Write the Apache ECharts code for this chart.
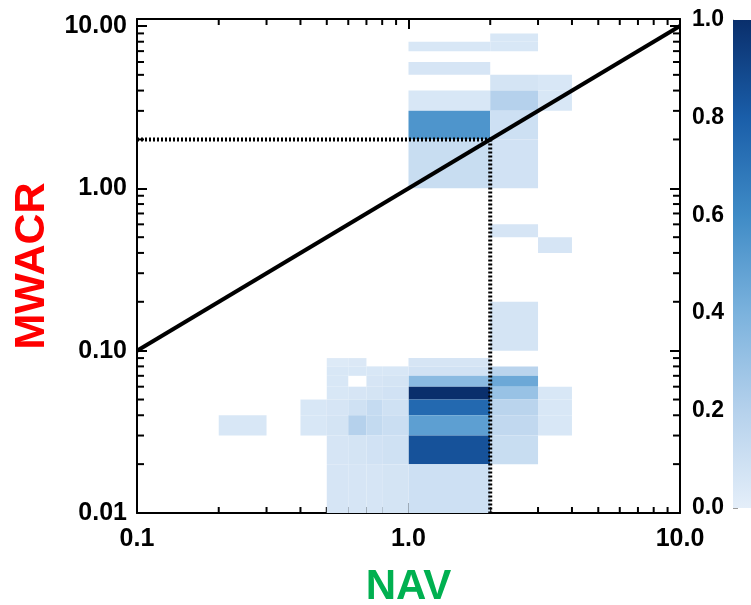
<!DOCTYPE html>
<html>
<head>
<meta charset="utf-8">
<script src="https://cdn.jsdelivr.net/npm/echarts@6/dist/echarts.min.js"></script>
<style>
  html, body { margin: 0; padding: 0; background: #fff; }
  #main { width: 751px; height: 605px; }
</style>
</head>
<body>
<div id="main"></div>
<script>
// colour scale, value 0 -> 1
const blues = ['#e4eef9', '#b5d1ec', '#7bb2dd', '#3f8bc6', '#1a5ea9', '#0a2f6c'];

const xTicks = [0.1, 1, 10];
const xTickLabels = ['0.1', '1.0', '10.0'];
const yTicks = [0.01, 0.1, 1, 10];
const yTickLabels = ['0.01', '0.10', '1.00', '10.00'];
const barTicks = [0, 0.2, 0.4, 0.6, 0.8, 1.0];

// histogram cells: [xFrom, xTo, yFrom, yTo, fraction]
const upperCells = [
    [1, 2, 7, 8, 0.05], [2, 3, 7, 8, 0.05], [2, 3, 8, 9, 0.05],
    [1, 2, 5, 6, 0.06],
    [2, 3, 4, 5, 0.07], [3, 4, 4, 5, 0.05],
    [1, 2, 3, 4, 0.05], [2, 3, 3, 4, 0.2], [3, 4, 3, 4, 0.05],
    [1, 2, 2, 3, 0.55], [2, 3, 2, 3, 0.1],
    [1, 2, 1, 2, 0.12], [2, 3, 1, 2, 0.08]
];
const middleCells = [
    [2, 3, 0.5, 0.6, 0.06], [3, 4, 0.4, 0.5, 0.06], [2, 3, 0.1, 0.2, 0.07]
];
const lowerCells = [
    [1, 2, 0.08, 0.09, 0.06], [1, 2, 0.07, 0.08, 0.08], [1, 2, 0.06, 0.07, 0.35],
    [1, 2, 0.05, 0.06, 1.0], [1, 2, 0.04, 0.05, 0.75], [1, 2, 0.03, 0.04, 0.5],
    [1, 2, 0.02, 0.03, 0.85], [1, 2, 0.01, 0.02, 0.1],
    [2, 3, 0.07, 0.08, 0.18], [2, 3, 0.06, 0.07, 0.45], [2, 3, 0.05, 0.06, 0.3],
    [2, 3, 0.04, 0.05, 0.18], [2, 3, 0.03, 0.04, 0.15], [2, 3, 0.02, 0.03, 0.12],
    [3, 4, 0.05, 0.06, 0.05], [3, 4, 0.04, 0.05, 0.05], [3, 4, 0.03, 0.04, 0.05]
];
const leftCells = [
    [0.2, 0.3, 0.03, 0.04, 0.05],
    [0.4, 0.5, 0.04, 0.05, 0.05], [0.4, 0.5, 0.03, 0.04, 0.05],
    [0.5, 0.6, 0.08, 0.09, 0.03], [0.5, 0.6, 0.07, 0.08, 0.05], [0.5, 0.6, 0.06, 0.07, 0.05],
    [0.5, 0.6, 0.05, 0.06, 0.05], [0.5, 0.6, 0.04, 0.05, 0.06], [0.5, 0.6, 0.03, 0.04, 0.07],
    [0.5, 0.6, 0.02, 0.03, 0.06], [0.5, 0.6, 0.01, 0.02, 0.06],
    [0.6, 0.7, 0.08, 0.09, 0.04], [0.6, 0.7, 0.07, 0.08, 0.05],
    [0.6, 0.7, 0.05, 0.06, 0.06], [0.6, 0.7, 0.04, 0.05, 0.09], [0.6, 0.7, 0.03, 0.04, 0.2],
    [0.6, 0.7, 0.02, 0.03, 0.07], [0.6, 0.7, 0.01, 0.02, 0.06],
    [0.7, 0.8, 0.07, 0.08, 0.05], [0.7, 0.8, 0.06, 0.07, 0.06], [0.7, 0.8, 0.05, 0.06, 0.07],
    [0.7, 0.8, 0.04, 0.05, 0.13], [0.7, 0.8, 0.03, 0.04, 0.14], [0.7, 0.8, 0.02, 0.03, 0.08],
    [0.7, 0.8, 0.01, 0.02, 0.06],
    [0.8, 1, 0.07, 0.08, 0.05], [0.8, 1, 0.06, 0.07, 0.07], [0.8, 1, 0.05, 0.06, 0.08],
    [0.8, 1, 0.04, 0.05, 0.09], [0.8, 1, 0.03, 0.04, 0.11], [0.8, 1, 0.02, 0.03, 0.09],
    [0.8, 1, 0.01, 0.02, 0.07]
];

const oneToOne = [[0.1, 0.1], [10, 10]];
const refNav = 2;
const refMwacr = 2;

const L = Math.log10;
const FONT = "'Liberation Sans', Arial, sans-serif";
const yTop = 1.043; // frame sits a little above 10

// minor tick values (2..9 in each decade)
function minors(ticks) {
    const out = [];
    for (let i = 0; i < ticks.length - 1; i++) {
        for (let k = 2; k <= 9; k++) out.push(L(ticks[i] * k));
    }
    return out;
}

const cells = [].concat(upperCells, middleCells, lowerCells, leftCells)
    .map(c => [L(c[0]), L(c[1]), L(c[2]), L(c[3]), c[4]]);

function tickLabel(ticks, labels) {
    return v => {
        const i = ticks.findIndex(t => Math.abs(L(t) - v) < 1e-6);
        return i >= 0 ? labels[i] : '';
    };
}

const axisCommon = {
    type: 'value',
    axisLine: { show: true, onZero: false, lineStyle: { color: '#000', width: 2 } },
    axisTick: { show: true, inside: true, length: 10, lineStyle: { color: '#000', width: 2 } },
    splitLine: { show: false },
    interval: 1
};

const chart = echarts.init(document.getElementById('main'));

chart.setOption({
    animation: false,
    backgroundColor: '#fff',
    grid: [
        { left: 137, top: 19, right: 71, bottom: 92, containLabel: false, outerBoundsMode: 'none' },
        { left: 733, top: 20, width: 40, height: 488, containLabel: false, outerBoundsMode: 'none' }
    ],
    visualMap: {
        show: false, type: 'continuous', min: 0, max: 1, dimension: 4,
        seriesIndex: 0, inRange: { color: blues }
    },
    xAxis: [
        Object.assign({}, axisCommon, {
            gridIndex: 0, position: 'bottom', min: -1, max: 1,
            axisLabel: {
                formatter: tickLabel(xTicks, xTickLabels), margin: 14,
                color: '#000', fontSize: 25, fontWeight: 'bold', fontFamily: FONT
            },
            name: 'NAV', nameLocation: 'middle', nameGap: 53,
            nameTextStyle: { color: '#00b050', fontSize: 42, fontWeight: 'bold', fontFamily: FONT }
        }),
        Object.assign({}, axisCommon, {
            gridIndex: 0, position: 'top', min: -1, max: 1, axisLabel: { show: false }
        }),
        { gridIndex: 1, type: 'category', data: ['c'], show: false }
    ],
    yAxis: [
        Object.assign({}, axisCommon, {
            gridIndex: 0, position: 'left', min: -2, max: yTop,
            axisLabel: {
                formatter: tickLabel(yTicks, yTickLabels), margin: 10, showMaxLabel: false,
                color: '#000', fontSize: 25, fontWeight: 'bold', fontFamily: FONT
            },
            name: 'MWACR', nameLocation: 'middle', nameGap: 77,
            nameTextStyle: { color: '#ff0000', fontSize: 43, fontWeight: 'bold', fontFamily: FONT }
        }),
        Object.assign({}, axisCommon, {
            gridIndex: 0, position: 'right', min: -2, max: yTop, axisLabel: { show: false }
        }),
        {
            gridIndex: 1, type: 'value', min: 0, max: 1, interval: 0.2, position: 'left',
            axisLine: { show: true, lineStyle: { color: '#999', width: 1 } },
            axisTick: { show: true, inside: true, length: 5, lineStyle: { color: '#999' } },
            minorTick: { show: true, splitNumber: 2, length: 4, lineStyle: { color: '#999' } },
            splitLine: { show: false },
            axisLabel: {
                formatter: v => v.toFixed(1), margin: 9,
                color: '#000', fontSize: 23, fontWeight: 'bold', fontFamily: FONT
            }
        }
    ],
    series: [
        {
            type: 'custom',
            xAxisIndex: 0, yAxisIndex: 0,
            data: cells,
            encode: { x: [0, 1], y: [2, 3] },
            clip: true,
            silent: true,
            renderItem(params, api) {
                const p0 = api.coord([api.value(0), api.value(2)]);
                const p1 = api.coord([api.value(1), api.value(3)]);
                return {
                    type: 'rect',
                    shape: { x: p0[0], y: p1[1], width: p1[0] - p0[0], height: p0[1] - p1[1] },
                    style: { fill: api.visual('color') }
                };
            }
        },
        {
            type: 'line', xAxisIndex: 0, yAxisIndex: 0, silent: true,
            data: oneToOne.map(p => [L(p[0]), L(p[1])]),
            symbol: 'none',
            lineStyle: { color: '#000', width: 4 }
        },
        {
            type: 'line', xAxisIndex: 0, yAxisIndex: 0, silent: true,
            data: [[L(xTicks[0]), L(refMwacr)], [L(refNav), L(refMwacr)]],
            symbol: 'none',
            lineStyle: { color: '#000', width: 4, type: [2, 2] }
        },
        {
            type: 'line', xAxisIndex: 0, yAxisIndex: 0, silent: true,
            data: [[L(refNav), L(refMwacr)], [L(refNav), L(yTicks[0])]],
            symbol: 'none',
            lineStyle: { color: '#000', width: 4, type: [2, 2] }
        },
        {
            // colour bar
            type: 'bar', xAxisIndex: 2, yAxisIndex: 2, silent: true,
            data: [barTicks[barTicks.length - 1]],
            barWidth: '100%',
            itemStyle: {
                color: new echarts.graphic.LinearGradient(0, 1, 0, 0,
                    blues.map((c, i) => ({ offset: i / (blues.length - 1), color: c })))
            }
        }
    ]
});

// minor log ticks on all four sides, placed through the axes' own scales
const tickLines = [];
const tickStyle = { stroke: '#000', lineWidth: 2 };
const gridRef = { gridIndex: 0 };
const cornerLB = chart.convertToPixel(gridRef, [-1, -2]);
const cornerRT = chart.convertToPixel(gridRef, [1, yTop]);
minors(xTicks).forEach(v => {
    const x = chart.convertToPixel(gridRef, [v, -2])[0];
    tickLines.push({ type: 'line', shape: { x1: x, y1: cornerLB[1], x2: x, y2: cornerLB[1] - 6 }, style: tickStyle });
    tickLines.push({ type: 'line', shape: { x1: x, y1: cornerRT[1], x2: x, y2: cornerRT[1] + 6 }, style: tickStyle });
});
minors(yTicks).forEach(v => {
    const y = chart.convertToPixel(gridRef, [-1, v])[1];
    tickLines.push({ type: 'line', shape: { x1: cornerLB[0], y1: y, x2: cornerLB[0] + 7, y2: y }, style: tickStyle });
    tickLines.push({ type: 'line', shape: { x1: cornerRT[0], y1: y, x2: cornerRT[0] - 7, y2: y }, style: tickStyle });
});
chart.setOption({ graphic: [{ type: 'group', z: 10, silent: true, children: tickLines }] });
</script>
</body>
</html>
